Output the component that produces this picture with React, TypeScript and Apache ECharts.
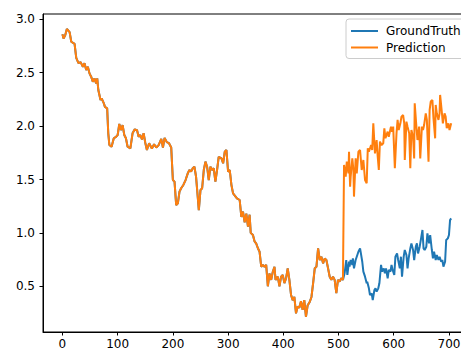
import React, { useEffect, useRef } from "react";
import * as echarts from "echarts";

// Shared history (GroundTruth and Prediction coincide here)
const sharedX = [0, 2, 5, 8, 13, 16, 22, 25, 29, 33, 37, 40, 43, 46, 49, 52, 55, 58, 61, 63, 65, 69, 71, 75, 77, 81, 83, 85, 89, 93, 97, 100, 103, 106, 109, 112, 115, 118, 123, 127, 131, 135, 138, 141, 144, 147, 150, 153, 157, 162, 166, 170, 174, 179, 182, 185, 189, 193, 197, 200, 203, 206, 209, 212, 215, 219, 223, 227, 230, 233, 236, 239, 242, 245, 247, 250, 253, 256, 259, 262, 265, 268, 271, 274, 277, 280, 283, 288, 291, 294, 297, 300, 303, 306, 309, 316, 321, 324, 327, 330, 333, 336, 339, 341, 345, 348, 351, 354, 357, 360, 363, 366, 369, 372, 375, 378, 381, 384, 386, 390, 393, 396, 399, 402, 405, 408, 411, 414, 417, 420, 423, 426, 429, 432, 435, 438, 441, 444, 448, 451, 454, 457, 460, 463, 466, 469, 472, 475, 478, 481, 484, 487, 490, 493, 496, 499, 502, 505, 508];
const sharedY = [2.86, 2.82, 2.85, 2.91, 2.88, 2.79, 2.77, 2.64, 2.59, 2.6, 2.556, 2.59, 2.525, 2.556, 2.494, 2.463, 2.416, 2.447, 2.4, 2.447, 2.338, 2.245, 2.26, 2.213, 2.18, 2.167, 1.933, 1.823, 1.807, 1.886, 1.9, 1.917, 2.02, 1.963, 2.01, 1.917, 1.886, 1.807, 1.792, 1.933, 1.97, 1.963, 1.9, 1.917, 1.876, 1.933, 1.845, 1.776, 1.84, 1.79, 1.83, 1.8, 1.82, 1.88, 1.8, 1.89, 1.85, 1.84, 1.8, 1.495, 1.48, 1.26, 1.277, 1.386, 1.418, 1.449, 1.495, 1.558, 1.589, 1.574, 1.605, 1.62, 1.526, 1.34, 1.214, 1.4, 1.418, 1.589, 1.667, 1.62, 1.495, 1.62, 1.589, 1.605, 1.48, 1.589, 1.713, 1.698, 1.652, 1.76, 1.776, 1.573, 1.589, 1.45, 1.37, 1.324, 1.308, 1.15, 1.2, 1.1, 1.18, 1.06, 1.17, 1.0, 0.98, 0.92, 0.9, 0.856, 0.824, 0.683, 0.7, 0.683, 0.7, 0.5, 0.62, 0.56, 0.636, 0.683, 0.56, 0.59, 0.5, 0.59, 0.606, 0.53, 0.575, 0.668, 0.56, 0.42, 0.37, 0.4, 0.247, 0.31, 0.3, 0.36, 0.28, 0.37, 0.215, 0.32, 0.356, 0.4, 0.53, 0.67, 0.683, 0.856, 0.746, 0.777, 0.715, 0.76, 0.746, 0.67, 0.59, 0.56, 0.59, 0.56, 0.435, 0.56, 0.545, 0.575, 0.56];

// GroundTruth after the split
const gtTailX = [511, 514, 516, 519, 520, 522, 525, 526, 528, 531, 533, 536, 539, 540, 543, 545, 548, 551, 552, 555, 557, 560, 562, 565, 567, 569, 572, 574, 577, 579, 582, 584, 586, 589, 591, 594, 596, 598, 601, 603, 606, 608, 611, 613, 615, 618, 620, 623, 625, 627, 630, 632, 635, 637, 640, 642, 644, 647, 649, 652, 654, 656, 659, 661, 664, 666, 669, 671, 673, 676, 678, 681, 683, 686, 688, 690, 693, 695, 698, 700, 702, 704];
const gtTailY = [0.621, 0.746, 0.606, 0.73, 0.684, 0.746, 0.7, 0.762, 0.668, 0.746, 0.777, 0.824, 0.855, 0.824, 0.73, 0.637, 0.59, 0.528, 0.543, 0.481, 0.418, 0.434, 0.372, 0.465, 0.481, 0.45, 0.481, 0.528, 0.7, 0.637, 0.668, 0.621, 0.668, 0.575, 0.653, 0.637, 0.7, 0.653, 0.606, 0.777, 0.808, 0.746, 0.668, 0.777, 0.59, 0.777, 0.84, 0.793, 0.668, 0.762, 0.855, 0.902, 0.84, 0.746, 0.871, 0.902, 0.808, 0.871, 0.933, 1.027, 0.855, 0.84, 0.871, 0.996, 0.902, 0.98, 0.84, 0.762, 0.824, 0.746, 0.793, 0.746, 0.777, 0.73, 0.746, 0.684, 0.73, 0.933, 0.949, 0.98, 1.12, 1.136];

// Prediction after the split
const predTailX = [510, 513, 515, 518, 519, 521, 522, 525, 527, 528, 531, 533, 536, 539, 542, 545, 548, 551, 553, 555, 559, 561, 563, 566, 569, 571, 573, 575, 578, 581, 583, 585, 589, 591, 595, 597, 599, 602, 605, 607, 609, 612, 614, 617, 619, 620, 623, 625, 628, 630, 632, 635, 637, 638, 641, 643, 646, 648, 651, 653, 655, 658, 660, 663, 665, 667, 670, 672, 675, 676, 678, 681, 683, 684, 687, 689, 692, 694, 696, 699, 701, 704];
const predTailY = [1.636, 1.527, 1.667, 1.558, 1.76, 1.433, 1.527, 1.698, 1.589, 1.34, 1.698, 1.558, 1.76, 1.776, 1.589, 1.683, 1.496, 1.465, 1.792, 1.76, 1.823, 1.776, 2.026, 1.745, 1.87, 1.714, 1.589, 1.855, 1.823, 1.839, 1.98, 1.886, 1.948, 1.901, 1.995, 1.948, 1.995, 1.605, 1.932, 2.058, 1.964, 2.026, 2.089, 2.104, 2.026, 1.683, 2.042, 1.995, 1.932, 1.605, 1.964, 1.901, 1.698, 2.214, 1.995, 1.87, 1.995, 1.698, 1.995, 1.964, 2.01, 2.12, 2.058, 1.667, 2.151, 2.23, 2.245, 2.073, 1.886, 2.198, 2.12, 2.058, 2.12, 2.292, 2.136, 2.026, 2.12, 2.089, 1.98, 2.026, 1.964, 2.026];

const xTicks = [0, 100, 200, 300, 400, 500, 600, 700];
const yTicks = [0.5, 1.0, 1.5, 2.0, 2.5, 3.0];

const zip = (xs: number[], ys: number[]) => xs.map((x, i) => [x, ys[i]]);

export default function App() {
  const ref = useRef<HTMLDivElement>(null);
  useEffect(() => {
    if (!ref.current) return;
    const chart = echarts.init(ref.current, undefined, { renderer: "svg" });
    const font = "DejaVu Sans";
    const fs = 12;
    chart.setOption({
      animation: false,
      backgroundColor: "#ffffff",
      grid: {
        left: 43,
        top: 14,
        right: 9.4,
        bottom: 22,
        show: true,
        borderColor: "#000000",
        borderWidth: 1,
        backgroundColor: "transparent",
      },
      legend: {
        orient: "vertical",
        left: 346,
        top: 19,
        padding: [6, 8, 5, 4],
        itemGap: 4.5,
        itemWidth: 27,
        itemHeight: 14,
        itemStyle: { opacity: 0 },
        lineStyle: { width: 2 },
        backgroundColor: "rgba(255,255,255,0.8)",
        borderColor: "#cccccc",
        borderWidth: 1,
        borderRadius: 3,
        textStyle: { fontFamily: font, fontSize: fs, color: "#000", padding: [0, 0, 0, 3] },
        data: ["GroundTruth", "Prediction"],
      },
      xAxis: {
        type: "value",
        min: -35.2,
        max: 739.2,
        splitLine: { show: false },
        axisLine: { onZero: false, lineStyle: { color: "#000", width: 1 } },
        axisTick: { show: true, length: 3.5, lineStyle: { color: "#000" }, customValues: xTicks },
        axisLabel: { fontFamily: font, fontSize: fs, color: "#000", margin: 6, customValues: xTicks },
      },
      yAxis: {
        type: "value",
        min: 0.072,
        max: 3.05,
        splitLine: { show: false },
        axisLine: { show: true, onZero: false, lineStyle: { color: "#000", width: 1 } },
        axisTick: { show: true, length: 3.5, lineStyle: { color: "#000" }, customValues: yTicks },
        axisLabel: {
          fontFamily: font,
          fontSize: fs,
          color: "#000",
          margin: 8,
          customValues: yTicks,
          formatter: (v: number) => v.toFixed(1),
        },
      },
      series: [
        {
          name: "GroundTruth",
          type: "line",
          symbol: "none",
          color: "#1f77b4",
          lineStyle: { width: 2, color: "#1f77b4" },
          data: [...zip(sharedX, sharedY), ...zip(gtTailX, gtTailY)],
        },
        {
          name: "Prediction",
          type: "line",
          symbol: "none",
          color: "#ff7f0e",
          lineStyle: { width: 2, color: "#ff7f0e" },
          data: [...zip(sharedX, sharedY), ...zip(predTailX, predTailY)],
        },
      ],
    });
    return () => chart.dispose();
  }, []);
  return (
    <div style={{ position: "fixed", left: 0, top: 0, width: 461, height: 354, overflow: "hidden", background: "#fff" }}>
      <div ref={ref} style={{ width: 480, height: 354 }} />
    </div>
  );
}
